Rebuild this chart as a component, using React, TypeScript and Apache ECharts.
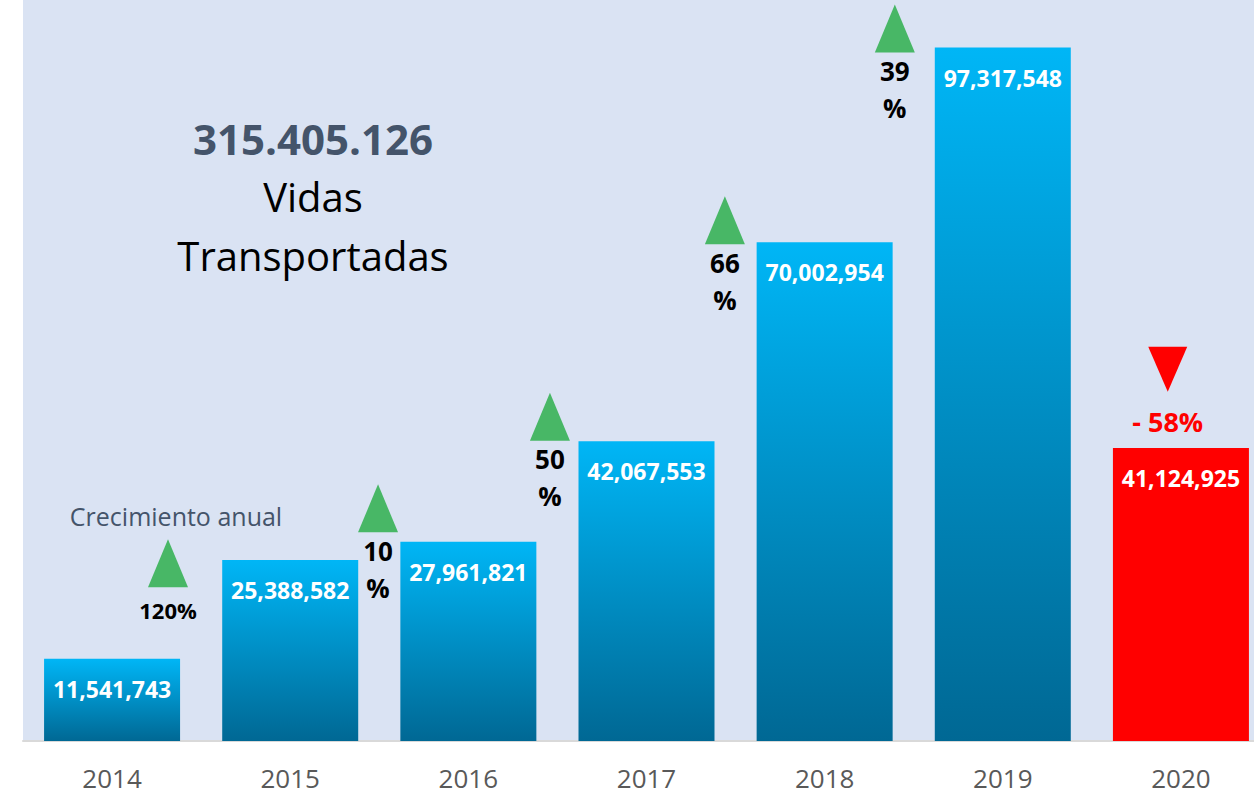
import React, { useEffect, useRef } from "react";
import * as echarts from "echarts";

const years = ["2014", "2015", "2016", "2017", "2018", "2019", "2020"];
const passengers = [11541743, 25388582, 27961821, 42067553, 70002954, 97317548, 41124925];
const growthLabels = ["120%", "10\n%", "50\n%", "66\n%", "39\n%", "- 58%"];
const growthX = [0.314, 1.493, 2.458, 3.44, 4.394, 5.926];
const growthY = [24.93e6, 32.65e6, 45.5e6, 73.09e6, 99.99e6, 52.17e6];
const growthUp = [true, true, true, true, true, false];

const FONT = "'Open Sans', 'Noto Sans', sans-serif";

export default function App() {
  const ref = useRef<HTMLDivElement>(null);
  useEffect(() => {
    if (!ref.current) return;
    const chart = echarts.init(ref.current, undefined, { renderer: "svg" });
    const total = passengers.reduce((a, b) => a + b, 0);
    const totalText = total.toString().replace(/\B(?=(\d{3})+(?!\d))/g, ".");
    const blueGrad = new echarts.graphic.LinearGradient(0, 0, 0, 1, [
      { offset: 0, color: "#00b6f6" },
      { offset: 1, color: "#006894" },
    ]);
    const scatterData = growthLabels.map((t, i) => {
      const up = growthUp[i];
      const multi = t.includes("\n");
      return {
        value: [growthX[i], growthY[i]],
        symbol: "triangle",
        symbolRotate: up ? 0 : 180,
        symbolSize: up ? [40, 48] : [39, 45],
        itemStyle: { color: up ? "#48b766" : "#ff0000", opacity: 1 },
        label: {
          show: true,
          position: "bottom",
          formatter: t,
          distance: up ? (multi ? 0 : 11) : 15,
          color: up ? "#000000" : "#ff0000",
          opacity: 1,
          fontFamily: FONT,
          fontWeight: "bold",
          fontSize: up ? (multi ? 26 : 22) : 27,
          lineHeight: multi ? 37 : up ? 24 : 30,
          align: "center",
        },
      };
    });
    chart.setOption({
      animation: false,
      backgroundColor: "#ffffff",
      grid: {
        left: 23,
        right: 0,
        top: 0,
        bottom: 55,
        show: true,
        backgroundColor: "#dae3f3",
        borderWidth: 0,
      },
      xAxis: [
        {
          type: "category",
          data: years,
          axisLine: { show: true, lineStyle: { color: "#d9d9d9", width: 2 } },
          axisTick: { show: false },
          axisLabel: {
            color: "#595959",
            fontFamily: FONT,
            fontSize: 26,
            lineHeight: 26,
            margin: 24,
          },
        },
        { type: "value", min: -0.5, max: 6.5, show: false },
      ],
      yAxis: {
        type: "value",
        min: 0,
        max: 104e6,
        show: false,
        splitLine: { show: false },
      },
      series: [
        {
          type: "bar",
          xAxisIndex: 0,
          barWidth: 136,
          data: passengers.map((v, i) => ({
            value: v,
            itemStyle: { color: i === passengers.length - 1 ? "#ff0000" : blueGrad },
          })),
          label: {
            show: true,
            position: "insideTop",
            distance: 18,
            color: "#ffffff",
            fontFamily: FONT,
            fontWeight: "bold",
            fontSize: 23,
            lineHeight: 24,
            formatter: (p: any) => Number(p.value).toLocaleString("en-US"),
          },
        },
        {
          type: "scatter",
          xAxisIndex: 1,
          data: scatterData,
          z: 5,
          itemStyle: { opacity: 1 },
        },
      ],
      graphic: [
        {
          type: "text",
          x: 313,
          y: 138,
          style: {
            text: totalText,
            align: "center",
            verticalAlign: "middle",
            textAlign: "center",
            textVerticalAlign: "middle",
            fill: "#44546a",
            font: `bold 42px ${FONT}`,
          },
        },
        {
          type: "text",
          x: 313,
          y: 196,
          style: {
            text: "Vidas",
            align: "center",
            verticalAlign: "middle",
            textAlign: "center",
            textVerticalAlign: "middle",
            fill: "#000000",
            font: `40px ${FONT}`,
          },
        },
        {
          type: "text",
          x: 313,
          y: 255,
          style: {
            text: "Transportadas",
            align: "center",
            verticalAlign: "middle",
            textAlign: "center",
            textVerticalAlign: "middle",
            fill: "#000000",
            font: `40px ${FONT}`,
          },
        },
        {
          type: "text",
          x: 176,
          y: 516,
          style: {
            text: "Crecimiento anual",
            align: "center",
            verticalAlign: "middle",
            textAlign: "center",
            textVerticalAlign: "middle",
            fill: "#44546a",
            font: `25px ${FONT}`,
          },
        },
      ],
    });
    return () => chart.dispose();
  }, []);
  return (
    <div
      style={{
        position: "absolute",
        left: 0,
        top: 0,
        width: 1254,
        height: 796,
        overflow: "hidden",
      }}
    >
      <div ref={ref} style={{ width: 1270, height: 796 }} />
    </div>
  );
}
